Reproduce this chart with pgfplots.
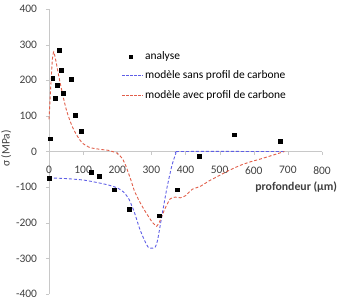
\documentclass[border=0pt]{standalone}
\usepackage{fontspec}
\setmainfont{Carlito}
\usepackage{pgfplots}
\pgfplotsset{compat=1.18}
\definecolor{bl}{RGB}{95,95,230}
\definecolor{rd}{RGB}{225,95,75}
\definecolor{tx}{RGB}{64,64,64}
\definecolor{ax}{RGB}{200,200,200}
\pgfplotsset{longline/.style={legend image code/.code={\draw[##1] (0cm,0cm) -- (0.72cm,0cm);}}}
\begin{document}
\fontsize{11.5}{13.8}\selectfont
\begin{tikzpicture}
\useasboundingbox (-49bp,-5bp) rectangle (294bp,294bp);
\begin{axis}[
  at={(0,0)}, anchor=south west,
  scale only axis, width=273bp, height=285bp,
  xmin=0, xmax=800, ymin=-400, ymax=400,
  axis x line=middle, axis y line=left,
  axis line style={draw=ax, -},
  xtick={0,100,...,800}, ytick={-400,-300,...,400},
  tick style={ax},
  tick align=outside,
  major tick length=3bp,
  ticklabel style={font=\fontsize{11.5}{13}\selectfont, text=tx},
  xticklabel style={yshift=-8bp},
  yticklabel style={xshift=-5bp},
  hide obscured x ticks=false, hide obscured y ticks=false,
  /pgf/number format/assume math mode=true,
  clip=false,
  xlabel={profondeur (µm)},
  xlabel style={at={(rel axis cs:1.07,0.375)}, anchor=east, font=\fontsize{11.8}{13}\selectfont\bfseries, text=tx},
  ylabel={σ (MPa)},
  ylabel style={at={(rel axis cs:-0.157,0.51)}, anchor=center, text=tx},
  legend style={draw=white, fill=none, at={(rel axis cs:0.255,0.866)}, anchor=north west,
    font=\fontsize{11.5}{13}\selectfont, row sep=6bp},
  legend cell align=left,
]
\addlegendimage{only marks, mark=square*, mark size=1.5bp, black}
\addlegendentry{analyse}
\addlegendimage{longline, bl, line width=0.9bp, dash pattern=on 2.5bp off 1.5bp}
\addlegendentry{modèle sans profil de carbone}
\addlegendimage{longline, rd, line width=0.9bp, dash pattern=on 2.5bp off 1.5bp}
\addlegendentry{modèle avec profil de carbone}
\addplot[forget plot, only marks, mark=square*, mark size=1.9bp, black] coordinates {
(4,36) (11,206) (17,149) (23,187) (30,284) (36,229) (42,164) (64,202) (77,101) (95,58)
(1,-74) (123,-58) (148,-70) (191,-107) (234,-161) (323,-180) (376,-107) (440,-14) (543,47) (677,28)
};
\addplot[forget plot, draw=bl, line width=0.9bp, dash pattern=on 3bp off 2bp, smooth, tension=0.3] coordinates {
(0,-74) (50,-76) (100,-80) (130,-85) (170,-93) (200,-102) (220,-115) (235,-135) (250,-170)
(265,-215) (280,-250) (292,-270) (310,-270) (318,-250) (330,-185) (345,-105) (360,-40)
(372,-5) (382,0) (690,0)
};
\addplot[forget plot, draw=rd, line width=0.9bp, dash pattern=on 3bp off 2bp, smooth, tension=0.3] coordinates {
(0,90) (5,180) (10,260) (14,280) (20,255) (30,205) (40,160) (50,120) (60,90) (70,66)
(80,48) (90,33) (100,22) (120,11) (150,6) (175,3) (200,-5) (215,-20) (225,-40) (240,-80)
(250,-110) (265,-140) (280,-165) (300,-195) (315,-210) (325,-195) (340,-160) (355,-133)
(370,-128) (385,-130) (400,-124) (420,-106) (443,-98) (470,-82) (500,-67) (530,-52)
(560,-39) (590,-29) (620,-21) (650,-12) (680,-3) (690,0)
};
\end{axis}
\end{tikzpicture}
\end{document}
